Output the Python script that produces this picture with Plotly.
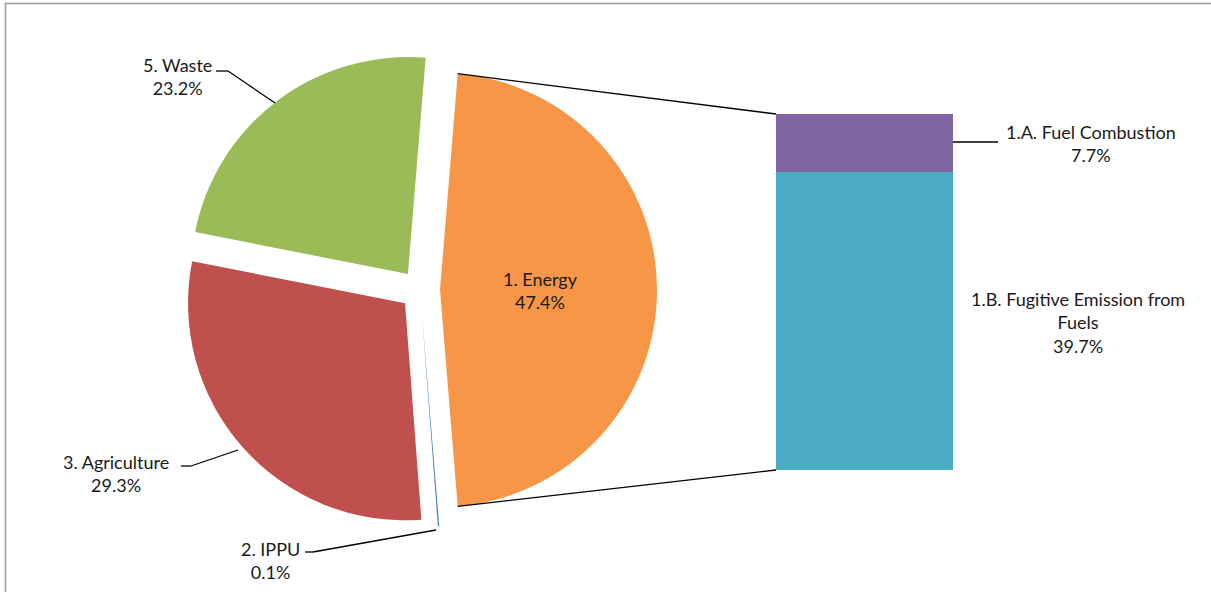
import math
import plotly.graph_objects as go

# Sector shares (%) of total emissions
sectors = ["1. Energy", "2. IPPU", "3. Agriculture", "5. Waste"]
sector_values = [47.4, 0.1, 29.3, 23.2]
sector_colors = ["#F79646", "#4F81BD", "#C0504D", "#9BBB59"]

# Breakdown of the energy sector (%)
energy_parts = ["1.B. Fugitive Emission from Fuels", "1.A. Fuel Combustion"]
energy_values = [39.7, 7.7]
energy_colors = ["#4BACC6", "#8064A2"]

W, H = 1211, 592
FONT = "Lato, Carlito, 'Open Sans', sans-serif"
FSIZE = 18
TXT = "#1a1a1a"

# Pie placement in pixels
CX, CY, R, PULL_PX = 420, 290, 217, 20
pull = PULL_PX / R
half = R * (1 + pull)

total = sum(sector_values)
# first slice (Energy) centred on 3 o'clock, slices run clockwise
rotation = 90 - sector_values[0] / total * 360 / 2


def px(x, y):
    return x / W, 1 - y / H


fig = go.Figure()

fig.add_trace(go.Pie(
    labels=sectors,
    values=sector_values,
    sort=False,
    direction="clockwise",
    rotation=rotation,
    pull=[pull] * len(sectors),
    marker=dict(colors=sector_colors, line=dict(width=0)),
    textinfo="none",
    hoverinfo="label+percent",
    showlegend=False,
    domain=dict(x=[(CX - half) / W, (CX + half) / W],
                y=[1 - (CY + half) / H, 1 - (CY - half) / H]),
))

# Stacked bar for the energy breakdown
BAR_L, BAR_R, BAR_T, BAR_B = 776, 953, 114, 470
for name, val, col in zip(energy_parts, energy_values, energy_colors):
    fig.add_trace(go.Bar(
        x=["Energy"], y=[val], name=name, width=1,
        marker=dict(color=col, line=dict(width=0)),
        showlegend=False, hoverinfo="name+y",
    ))

energy_total = sum(energy_values)
fig.update_layout(
    barmode="stack",
    width=W, height=H,
    margin=dict(l=0, r=0, t=0, b=0),
    paper_bgcolor="white", plot_bgcolor="rgba(0,0,0,0)",
    xaxis=dict(domain=[BAR_L / W, BAR_R / W], range=[-0.5, 0.5],
               visible=False, fixedrange=True),
    yaxis=dict(domain=[1 - BAR_B / H, 1 - BAR_T / H], range=[0, energy_total],
               visible=False, fixedrange=True),
    font=dict(family=FONT, size=FSIZE, color=TXT),
)

# Connector lines from the Energy slice edges to the bar corners
a0 = math.radians(rotation)
a1 = math.radians(rotation + sector_values[0] / total * 360)
mid = (a0 + a1) / 2
ox, oy = CX + PULL_PX * math.sin(mid), CY - PULL_PX * math.cos(mid)
top_pt = (ox + R * math.sin(a0), oy - R * math.cos(a0))
bot_pt = (ox + R * math.sin(a1), oy - R * math.cos(a1))

shapes = []
for (sx, sy), (ex, ey) in [(top_pt, (BAR_L, BAR_T)), (bot_pt, (BAR_L, BAR_B))]:
    x0, y0 = px(sx, sy)
    x1, y1 = px(ex, ey)
    shapes.append(dict(type="line", xref="paper", yref="paper",
                       x0=x0, y0=y0, x1=x1, y1=y1,
                       line=dict(color="black", width=1.3)))


def leader(points):
    for (xa, ya), (xb, yb) in zip(points[:-1], points[1:]):
        x0, y0 = px(xa, ya)
        x1, y1 = px(xb, yb)
        shapes.append(dict(type="line", xref="paper", yref="paper",
                           x0=x0, y0=y0, x1=x1, y1=y1,
                           line=dict(color="black", width=1.3)))


leader([(216, 71), (228, 71), (275, 103)])
leader([(181, 466), (191, 466), (238, 450)])
leader([(305, 552), (313, 552), (436, 530)])
leader([(BAR_R, 142), (998, 142)])

# Chart frame
fx0, fy0 = px(5.5, 3.5)
shapes.append(dict(type="rect", xref="paper", yref="paper",
                   x0=fx0, y0=-0.1, x1=1.1, y1=fy0,
                   line=dict(color="#9a9a9a", width=1.5)))

fig.update_layout(shapes=shapes)

# Data labels
def label(text, x, y):
    ax, ay = px(x, y)
    fig.add_annotation(text=text, x=ax, y=ay, xref="paper", yref="paper",
                       showarrow=False, align="center",
                       xanchor="center", yanchor="middle",
                       font=dict(family=FONT, size=FSIZE, color=TXT))


def fmt(name, v):
    return f"{name}<br>{v:.1f}%"


label(fmt(sectors[3], sector_values[3]), 177, 77)
label(fmt(sectors[2], sector_values[2]), 116, 473)
label(fmt(sectors[1], sector_values[1]), 270, 560)
label(fmt(sectors[0], sector_values[0]), 540, 290)
label(fmt(energy_parts[1], energy_values[1]), 1091, 143)
label("1.B. Fugitive Emission from<br>Fuels<br>" + f"{energy_values[0]:.1f}%", 1078, 322)

fig.write_html("out.html")
